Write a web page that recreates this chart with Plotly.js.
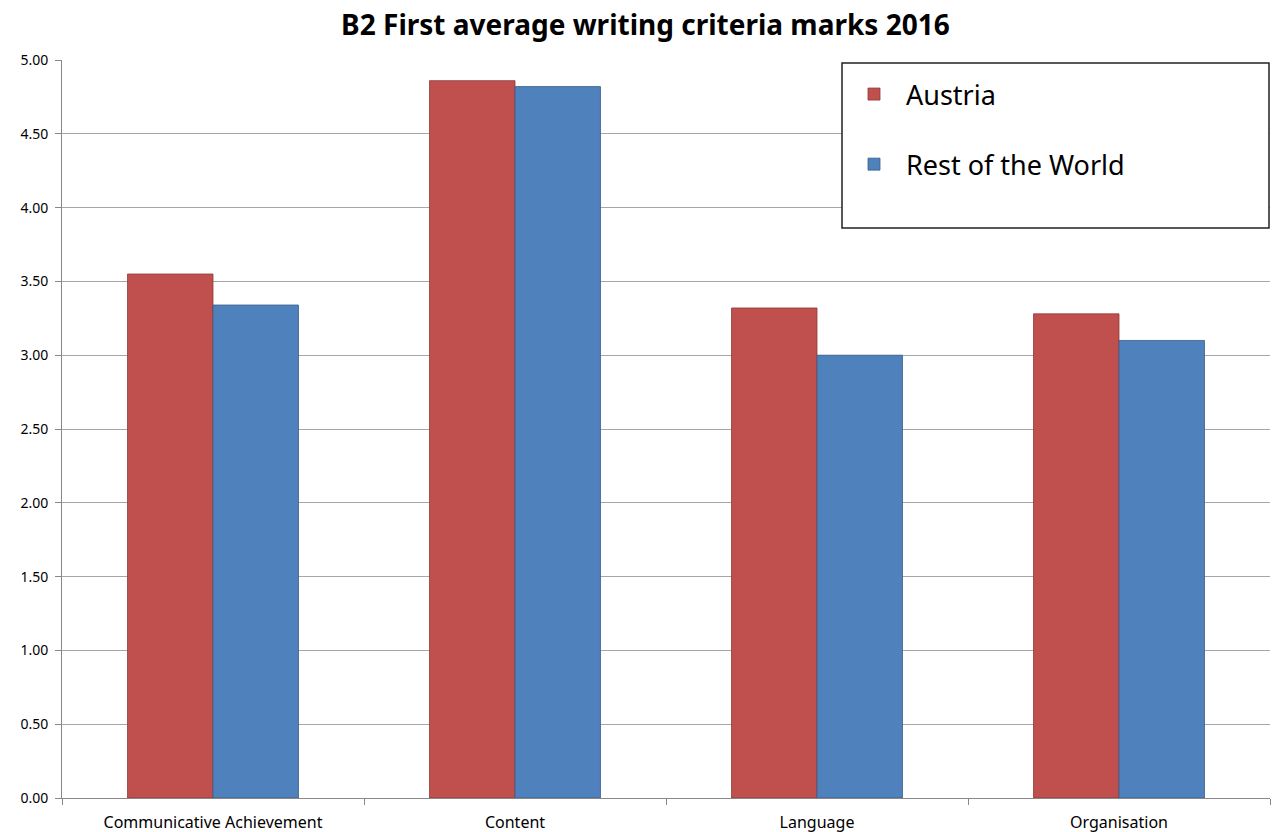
<!DOCTYPE html>
<html>
<head>
<meta charset="utf-8">
<script src="https://cdn.plot.ly/plotly-3.0.1.min.js"></script>
<style>html,body{margin:0;padding:0;background:#fff;}#chart{width:1273px;height:832px;}</style>
</head>
<body>
<div id="chart"></div>
<script>
const categories = ["Communicative Achievement", "Content", "Language", "Organisation"];
const austria = [3.55, 4.86, 3.32, 3.28];
const restOfWorld = [3.34, 4.82, 3.00, 3.10];
const seriesNames = ["Austria", "Rest of the World"];
const yTicks = [0, 0.5, 1, 1.5, 2, 2.5, 3, 3.5, 4, 4.5, 5];

const font = "Noto Sans, Open Sans, sans-serif";
const data = [
  {type: "bar", name: seriesNames[0], x: categories, y: austria, legendgroup: "a",
   marker: {color: "#c0504d", line: {color: "#8c3836", width: 0.8}}, hoverinfo: "x+y+name"},
  {type: "bar", name: seriesNames[1], x: categories, y: restOfWorld, legendgroup: "b",
   marker: {color: "#4f81bd", line: {color: "#385d8a", width: 0.8}}, hoverinfo: "x+y+name"}
];
const layout = {
  width: 1273, height: 832,
  margin: {l: 62, r: 3, t: 60, b: 34},
  paper_bgcolor: "#fff", plot_bgcolor: "#fff",
  title: {text: "<b>B2 First average writing criteria marks 2016</b>", x: 0.507, xanchor: "center", y: 0.97, yanchor: "middle",
          font: {family: font, size: 28, color: "#000"}},
  barmode: "group", bargap: 0.434, bargroupgap: 0,
  xaxis: {type: "category", showline: true, linecolor: "#888", linewidth: 1, ticks: "outside", tickson: "boundaries",
          ticklen: 6, tickcolor: "#888", showgrid: false, ticklabelstandoff: 10,
          tickfont: {family: font, size: 16, color: "#000"}, automargin: false},
  yaxis: {range: [0, 5], tickvals: yTicks, tickformat: ".2f", showline: true, linecolor: "#888", linewidth: 1,
          ticks: "outside", ticklen: 6, tickcolor: "#888", showgrid: true, gridcolor: "#a6a6a6", gridwidth: 1,
          ticklabelstandoff: 4, zeroline: false, tickfont: {family: font, size: 14, color: "#000"}, automargin: false},
  shapes: [{type: "rect", xref: "paper", yref: "paper", layer: "above",
            x0: (842-62)/1208, x1: (1269-62)/1208, y0: (798-228)/738, y1: (798-63)/738,
            fillcolor: "#fff", line: {color: "#222", width: 1.5}}],
  showlegend: true,
  legend: {x: (842-62)/1208, y: (798-70)/738, xanchor: "left", yanchor: "top", bgcolor: "rgba(0,0,0,0)",
           borderwidth: 0, font: {family: font, size: 27, color: "#000"}, traceorder: "grouped",
           tracegroupgap: 32, itemwidth: 54}
};
Plotly.newPlot("chart", data, layout, {displayModeBar: false, staticPlot: true});
</script>
</body>
</html>
